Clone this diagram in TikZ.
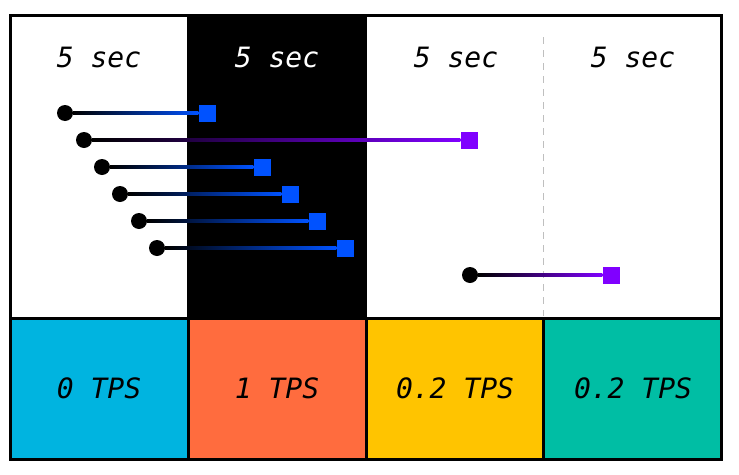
\documentclass[tikz,border=0pt]{standalone}
\usepackage{fontspec}
\setmonofont{DejaVu Sans Mono}
\usetikzlibrary{positioning}

\definecolor{reqblue}{RGB}{0,82,255}
\definecolor{reqpurple}{RGB}{128,0,255}
\definecolor{tpscyan}{RGB}{0,180,224}
\definecolor{tpsorange}{RGB}{255,108,62}
\definecolor{tpsyellow}{RGB}{255,196,0}
\definecolor{tpsteal}{RGB}{0,190,164}

\tikzset{
	start/.style={circle, fill=black, inner sep=0pt, minimum size=16pt},
	stop/.style={rectangle, inner sep=0pt, minimum size=17pt},
	label text/.style={font=\ttfamily\itshape\fontsize{28}{32}\selectfont}
}

\begin{document}
\begin{tikzpicture}[x=1pt, y=-1pt]
				\useasboundingbox (0,0) rectangle (739,474);
				% windows
				\fill[white] (10.5,15.5) rectangle (721.5,459);
				\fill[black] (187,15.5) rectangle (367,318);
				\fill[tpscyan] (10.5,318) rectangle (188.5,459);
				\fill[tpsorange] (188.5,318) rectangle (366.5,459);
				\fill[tpsyellow] (366.5,318) rectangle (543.5,459);
				\fill[tpsteal] (543.5,318) rectangle (721.5,459);
				\draw[gray!50, line width=1.5pt, dash pattern=on 7pt off 6pt] (543.5,37) -- (543.5,316);
				\draw[line width=3pt] (10.5,318) -- (721.5,318);
				\draw[line width=3pt] (188.5,318) -- (188.5,459);
				\draw[line width=3pt] (366.5,318) -- (366.5,459);
				\draw[line width=3pt] (543.5,318) -- (543.5,459);
				\draw[line width=3pt] (10.5,15.5) rectangle (721.5,459);
				% window labels
				\node[label text] (W1)at(99, 57) {5 sec};
				\node[label text, text=white] (W2)at(277, 57) {5 sec};
				\node[label text] (W3)at(456, 57) {5 sec};
				\node[label text] (W4)at(633, 57) {5 sec};
				\node[label text] (T1)at(99, 388) {0 TPS};
				\node[label text] (T2)at(277, 388) {1 TPS};
				\node[label text] (T3)at(455, 388) {0.2 TPS};
				\node[label text] (T4)at(633, 388) {0.2 TPS};
				% requests
				\node[start] (A)at(65, 113) {};
				\node[start] (B)at(84, 140) {};
				\node[start] (C)at(102, 167) {};
				\node[start] (D)at(120, 194) {};
				\node[start] (E)at(139, 221) {};
				\node[start] (F)at(157, 248) {};
				\node[start] (G)at(470, 275) {};
				\node[stop, fill=reqblue] (RA)at(207, 113) {};
				\node[stop, fill=reqpurple] (RB)at(469, 140) {};
				\node[stop, fill=reqblue] (RC)at(262, 167) {};
				\node[stop, fill=reqblue] (RD)at(290, 194) {};
				\node[stop, fill=reqblue] (RE)at(317, 221) {};
				\node[stop, fill=reqblue] (RF)at(345, 248) {};
				\node[stop, fill=reqpurple] (RG)at(611, 275) {};
				\shade[left color=black, right color=reqblue] ([yshift=-1.5pt]A.east) rectangle ([yshift=1.5pt]RA.west);
				\shade[left color=black, right color=reqpurple] ([yshift=-1.5pt]B.east) rectangle ([yshift=1.5pt]RB.west);
				\shade[left color=black, right color=reqblue] ([yshift=-1.5pt]C.east) rectangle ([yshift=1.5pt]RC.west);
				\shade[left color=black, right color=reqblue] ([yshift=-1.5pt]D.east) rectangle ([yshift=1.5pt]RD.west);
				\shade[left color=black, right color=reqblue] ([yshift=-1.5pt]E.east) rectangle ([yshift=1.5pt]RE.west);
				\shade[left color=black, right color=reqblue] ([yshift=-1.5pt]F.east) rectangle ([yshift=1.5pt]RF.west);
				\shade[left color=black, right color=reqpurple] ([yshift=-1.5pt]G.east) rectangle ([yshift=1.5pt]RG.west);
			\end{tikzpicture}
\end{document}
